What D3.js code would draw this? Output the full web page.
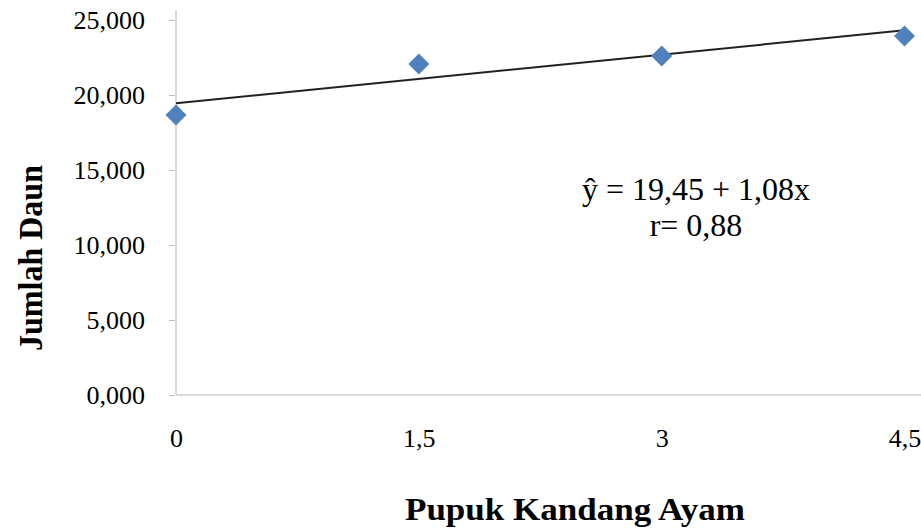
<!DOCTYPE html>
<html><head><meta charset="utf-8">
<script src="https://cdn.jsdelivr.net/npm/d3@7"></script>
<style>html,body{margin:0;padding:0;background:#fff;}svg{display:block;}</style>
</head><body>
<script>
const xValues = [0, 1.5, 3, 4.5];
const yValues = [18.67, 22.07, 22.6, 23.93];
const yTicks = [0, 5, 10, 15, 20, 25];
const yTickLabels = ["0,000", "5,000", "10,000", "15,000", "20,000", "25,000"];
const xTickLabels = ["0", "1,5", "3", "4,5"];
const trendIntercept = 19.45;
const trendSlope = 1.08;
const equationLines = ["ŷ = 19,45 + 1,08x", "r= 0,88"];
const xTitle = "Pupuk Kandang Ayam";
const yTitle = "Jumlah Daun";

const W = 921, H = 531;
const svg = d3.select("body").append("svg").attr("width", W).attr("height", H);
const x = d3.scaleLinear().domain([0, 4.6]).range([176, 920.7]);
const y = d3.scaleLinear().domain([0, 25]).range([395, 20]);
const serif = "'Liberation Serif','Times New Roman',serif";

// axes lines
svg.append("line").attr("x1", x(0)).attr("x2", x(0)).attr("y1", 10).attr("y2", y(0))
  .attr("stroke", "#d9d9d9").attr("stroke-width", 2);
svg.append("line").attr("x1", x(0)).attr("x2", W).attr("y1", y(0)).attr("y2", y(0))
  .attr("stroke", "#d9d9d9").attr("stroke-width", 2);

// y axis
const yAxis = d3.axisLeft(y).tickValues(yTicks).tickSize(6).tickPadding(24)
  .tickFormat((d, i) => yTickLabels[i]);
const gy = svg.append("g").attr("transform", `translate(${x(0) - 1},0)`).call(yAxis);
gy.select(".domain").remove();
gy.selectAll(".tick line").attr("stroke", "#bfbfbf");
gy.selectAll(".tick text").attr("font-family", serif).attr("font-size", 26).attr("fill", "#000");

// x axis labels
const xAxis = d3.axisBottom(x).tickValues(xValues).tickSize(0).tickPadding(34)
  .tickFormat((d, i) => xTickLabels[i]);
const gx = svg.append("g").attr("transform", `translate(0,${y(0)})`).call(xAxis);
gx.select(".domain").remove();
gx.selectAll(".tick text").attr("font-family", serif).attr("font-size", 26).attr("fill", "#000");

// trend line
svg.append("line")
  .attr("x1", x(0)).attr("y1", y(trendIntercept))
  .attr("x2", x(4.5)).attr("y2", y(trendIntercept + trendSlope * 4.5))
  .attr("stroke", "#222").attr("stroke-width", 2);

// points
svg.selectAll("path.pt").data(xValues).enter().append("path")
  .attr("class", "pt")
  .attr("d", d3.symbol(d3.symbolSquare, 220))
  .attr("transform", (d, i) => `translate(${x(d)},${y(yValues[i])}) rotate(45)`)
  .attr("fill", "#4f81bd");

// equation
svg.selectAll("text.eq").data(equationLines).enter().append("text")
  .attr("class", "eq")
  .attr("x", 696).attr("y", (d, i) => 200 + i * 36)
  .attr("text-anchor", "middle")
  .attr("font-family", serif).attr("font-size", 32).attr("fill", "#000")
  .text(d => d);

// titles
svg.append("text").attr("x", 575).attr("y", 520).attr("text-anchor", "middle")
  .attr("font-family", serif).attr("font-weight", "bold").attr("font-size", 32)
  .attr("textLength", 340).attr("lengthAdjust", "spacingAndGlyphs")
  .text(xTitle);
svg.append("text").attr("transform", "translate(42,258) rotate(-90)").attr("text-anchor", "middle")
  .attr("font-family", serif).attr("font-weight", "bold").attr("font-size", 34)
  .attr("textLength", 186).attr("lengthAdjust", "spacingAndGlyphs")
  .text(yTitle);
</script>
</body></html>
